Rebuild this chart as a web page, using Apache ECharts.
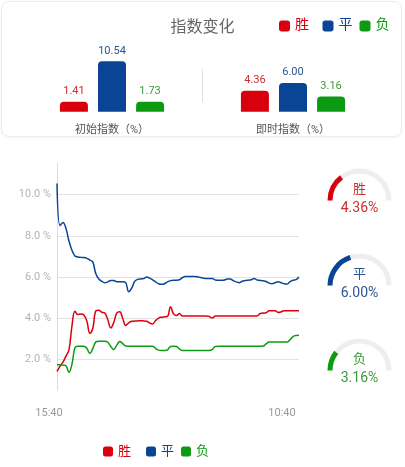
<!DOCTYPE html>
<html><head><meta charset="utf-8">
<script src="https://cdn.jsdelivr.net/npm/echarts@6/dist/echarts.min.js"></script>
<style>
html,body{margin:0;padding:0;background:#fff;}
#card{position:absolute;left:1px;top:1px;width:399px;height:134px;border:1px solid #ececec;border-radius:8px;box-shadow:0 1px 3px rgba(0,0,0,0.05);}
#main{position:absolute;left:0;top:0;width:405px;height:467px;}
</style></head><body>
<div id="card"></div><div id="main"></div>
<script>
const outcomes = ['胜', '平', '负'];
const colors = ['#d9000d', '#0a4595', '#0c9a13'];
const textColors = ['#c8302f', '#2e5590', '#3a9a3a'];
const indexCategories = ['初始指数（%）', '即时指数（%）'];
const initialIndex = [1.41, 10.54, 1.73];
const currentIndex = [4.36, 6.00, 3.16];
const timeLabels = ['15:40', '10:40'];

const winSeries = [
  1.41, 1.65, 1.85, 2.15, 2.45, 3.6, 4.33, 4.17, 4.2, 4.15,
  3.85, 3.26, 3.5, 4.35, 4.38, 4.28, 4.24, 3.92, 3.52, 3.78,
  4.24, 4.3, 3.98, 3.64, 3.77, 3.84, 3.85, 3.86, 3.87, 3.86,
  3.84, 3.76, 3.71, 3.88, 4.0, 4.04, 4.06, 4.08, 4.55, 4.2,
  4.12, 4.22, 4.1, 4.1, 4.1, 4.1, 4.1, 4.1, 4.1, 4.1,
  4.1, 4.07, 4.0, 4.1, 4.1, 4.1, 4.1, 4.1, 4.1, 4.1,
  4.1, 4.1, 4.1, 4.1, 4.1, 4.1, 4.1, 4.1, 4.22, 4.24,
  4.26, 4.35, 4.36, 4.36, 4.27, 4.3, 4.36, 4.36, 4.36, 4.36,
  4.36, 4.36
];
const drawSeries = [
  10.54, 8.5, 8.65, 8.36, 7.75, 7.3, 7.02, 6.97, 6.95, 6.94,
  6.9, 6.82, 6.72, 6.15, 5.9, 5.78, 5.72, 5.76, 5.83, 5.82,
  5.76, 5.76, 5.76, 5.72, 5.28, 5.45, 5.78, 5.88, 5.9, 5.92,
  5.99, 5.94, 5.86, 5.76, 5.67, 5.64, 5.67, 5.76, 5.82, 5.84,
  5.84, 5.86, 5.97, 6.02, 6.02, 6.02, 6.02, 6.01, 5.97, 5.94,
  5.92, 5.92, 5.92, 5.85, 5.84, 5.84, 5.85, 5.9, 5.9, 5.82,
  5.76, 5.72, 5.79, 5.82, 5.84, 5.86, 5.92, 5.85, 5.83, 5.81,
  5.78, 5.7, 5.67, 5.72, 5.76, 5.72, 5.67, 5.65, 5.77, 5.84,
  5.87, 6.0
];
const loseSeries = [
  1.73, 1.72, 1.71, 1.68, 1.35, 1.75, 2.55, 2.63, 2.63, 2.63,
  2.52, 2.28, 2.52, 2.84, 2.87, 2.87, 2.87, 2.82, 2.62, 2.47,
  2.68, 2.86, 2.76, 2.64, 2.63, 2.63, 2.63, 2.63, 2.63, 2.63,
  2.63, 2.63, 2.63, 2.52, 2.44, 2.42, 2.42, 2.45, 2.62, 2.63,
  2.62, 2.5, 2.42, 2.42, 2.42, 2.42, 2.42, 2.42, 2.42, 2.42,
  2.42, 2.42, 2.48, 2.62, 2.63, 2.63, 2.63, 2.63, 2.63, 2.63,
  2.63, 2.63, 2.63, 2.63, 2.63, 2.63, 2.63, 2.63, 2.63, 2.64,
  2.74, 2.83, 2.83, 2.83, 2.83, 2.83, 2.83, 2.83, 2.95, 3.1,
  3.15, 3.16
];
const lineData = [winSeries, drawSeries, loseSeries];
const sampleIndex = winSeries.map((_, i) => String(i));
const lastIdx = sampleIndex.length - 1;

const FONT = 'Roboto, "Noto Sans CJK SC", sans-serif';
const chart = echarts.init(document.getElementById('main'));

const legendItems = outcomes.map((n, k) => ({ name: n, textStyle: { color: colors[k] } }));

function makeLegend(items, left, top, size, fontSize) {
  return { data: items, left: left, top: top, padding: 0, itemWidth: size, itemHeight: size,
    itemGap: 7, icon: 'roundRect', selectedMode: false,
    textStyle: { fontSize: fontSize, fontFamily: FONT } };
}

const series = [];
outcomes.forEach((n, k) => {
  series.push({
    name: n, type: 'bar', xAxisIndex: 0, yAxisIndex: 0,
    data: [initialIndex[k], currentIndex[k]],
    barWidth: 28, barGap: '36%', barMinHeight: 10,
    itemStyle: { color: colors[k], borderRadius: [4, 4, 0, 0] },
    label: { show: true, position: 'top', distance: 5, fontSize: 11, fontFamily: FONT,
      color: textColors[k], formatter: p => p.value.toFixed(2) }
  });
});
outcomes.forEach((n, k) => {
  series.push({
    name: n, type: 'line', xAxisIndex: 1, yAxisIndex: 1,
    data: lineData[k], smooth: 0.4, showSymbol: false, symbol: 'none',
    lineStyle: { color: colors[k], width: 1.5 }, itemStyle: { color: colors[k] }
  });
});
const gaugeCentersY = [200.5, 285.5, 370.5];
outcomes.forEach((n, k) => {
  series.push({
    name: 'g' + n, type: 'gauge', center: [359.5, gaugeCentersY[k]], radius: 32,
    startAngle: 180, endAngle: 0, min: 0, max: 15,
    progress: { show: true, width: 5, roundCap: false, itemStyle: { color: colors[k] } },
    axisLine: { lineStyle: { width: 5, color: [[1, '#eeeeee']] } },
    pointer: { show: false }, anchor: { show: false },
    axisTick: { show: false }, splitLine: { show: false }, axisLabel: { show: false },
    title: { offsetCenter: [0, '-33%'], fontSize: 13, color: textColors[k], fontFamily: FONT },
    detail: { offsetCenter: [0, '24%'], fontSize: 14, fontWeight: 'normal', color: textColors[k],
      fontFamily: FONT, valueAnimation: false, formatter: v => v.toFixed(2) + '%' },
    data: [{ value: currentIndex[k], name: n }]
  });
});

chart.setOption({
  animation: false,
  textStyle: { fontFamily: FONT },
  title: { text: '指数变化', left: 'center', top: 15,
    textStyle: { fontSize: 16, color: '#666', fontWeight: 'normal', fontFamily: FONT } },
  legend: [
    makeLegend(legendItems.slice(0, 1), 279, 19, 11, 14),
    makeLegend(legendItems.slice(1), 322.5, 19, 11, 14),
    makeLegend(legendItems.slice(0, 1), 103, 445, 10, 13),
    makeLegend(legendItems.slice(1), 146, 445, 10, 13)
  ],
  grid: [
    { left: 21.5, right: 21.5, top: 61.3, bottom: 355.3 },
    { left: 57, right: 106, top: 163, bottom: 77 }
  ],
  xAxis: [
    { type: 'category', gridIndex: 0, data: indexCategories,
      axisLine: { show: false }, axisTick: { show: false }, splitLine: { show: false },
      axisLabel: { fontSize: 11, color: '#555', margin: 13, fontFamily: FONT } },
    { type: 'category', gridIndex: 1, data: sampleIndex, boundaryGap: false,
      axisLine: { show: false }, axisTick: { show: false }, splitLine: { show: false },
      axisLabel: {
        interval: (i) => i === 0 || i === lastIdx,
        margin: 18, fontSize: 11, color: '#999', fontFamily: FONT,
        formatter: (v, i) => i === 0 ? '{a|' + timeLabels[0] + '}' : '{b|' + timeLabels[1] + '}',
        rich: {
          a: { padding: [0, 16, 0, 0], fontSize: 11, color: '#999', fontFamily: FONT },
          b: { padding: [0, 34, 0, 0], fontSize: 11, color: '#999', fontFamily: FONT }
        }
      } }
  ],
  yAxis: [
    { type: 'value', gridIndex: 0, min: 0, max: 'dataMax', show: false },
    { type: 'value', gridIndex: 1, min: 0.5, max: 11.54, minInterval: 2, maxInterval: 2,
      axisLine: { show: true, lineStyle: { color: '#dddddd' } }, axisTick: { show: false },
      splitLine: { show: true, showMinLine: false, showMaxLine: false, lineStyle: { color: '#e3e3e3' } },
      axisLabel: { showMinLabel: false, showMaxLabel: false, fontSize: 11, color: '#b5b5b5', margin: 6,
        fontFamily: FONT,
        formatter: v => (Math.abs(v - Math.round(v)) < 1e-6 && Math.round(v) % 2 === 0) ? v.toFixed(1) + ' %' : '' } }
  ],
  graphic: [
    { type: 'line', shape: { x1: 202.5, y1: 69, x2: 202.5, y2: 102 },
      style: { stroke: '#e0e0e0', lineWidth: 1 }, silent: true }
  ],
  series: series
});
</script></body></html>
